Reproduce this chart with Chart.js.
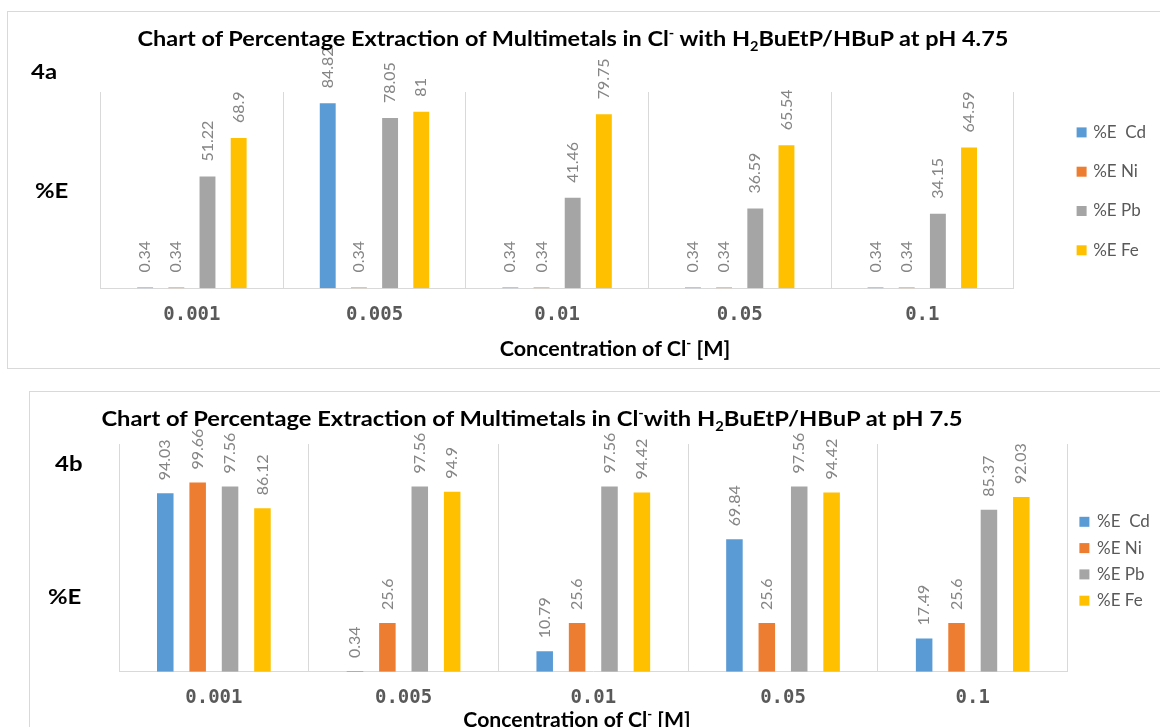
<!DOCTYPE html>
<html>
<head>
<meta charset="utf-8">
<script src="https://cdn.jsdelivr.net/npm/chart.js@4.4.1/dist/chart.umd.min.js"></script>
<style>
  html, body { margin: 0; padding: 0; background: #fff; width: 1160px; height: 727px; overflow: hidden; }
  .panel { position: absolute; border: 1px solid #d9d9d9; box-sizing: border-box; }
  canvas { position: absolute; }
  .txt {
    position: absolute; white-space: nowrap; line-height: 1;
    font-family: Lato, "DejaVu Sans", sans-serif; font-weight: bold; font-size: 21px; color: #000;
    transform-origin: 0 50%;
    transform: translateY(-50%) scaleX(1.14);
  }
  .txt.mid { transform-origin: 50% 50%; }
  .txt sup, .txt sub { font-size: 0.62em; line-height: 0; }
</style>
</head>
<body>

<!-- panel 4a -->
<div class="panel" style="left:7px; top:11px; width:1170px; height:358px;"></div>
<canvas id="chartA" width="1150" height="355" style="left:8px; top:12px;"></canvas>
<div class="txt mid" style="left:573px; top:37px; transform: translate(-50%, -50%) scaleX(1.118);">Chart of Percentage Extraction of Multimetals in Cl<sup>-</sup> with H<sub>2</sub>BuEtP/HBuP at pH 4.75</div>
<div class="txt" style="left:31px; top:70px;">4a</div>
<div class="txt" style="left:35px; top:189px;">%E</div>
<div class="txt mid" style="left:615px; top:347px; transform: translate(-50%, -50%) scaleX(1.025);">Concentration of Cl<sup>-</sup> [M]</div>

<!-- panel 4b -->
<div class="panel" style="left:29px; top:391px; width:1150px; height:400px;"></div>
<canvas id="chartB" width="1130" height="335" style="left:30px; top:392px;"></canvas>
<div class="txt mid" style="left:532px; top:417px; transform: translate(-50%, -50%) scaleX(1.13);">Chart of Percentage Extraction of Multimetals in Cl<sup>-</sup>with H<sub>2</sub>BuEtP/HBuP at pH 7.5</div>
<div class="txt" style="left:55px; top:462px;">4b</div>
<div class="txt" style="left:48px; top:595px;">%E</div>
<div class="txt mid" style="left:577px; top:718px; transform: translate(-50%, -50%) scaleX(1.01);">Concentration of Cl<sup>-</sup> [M]</div>

<script>
// shared categories / series

const categories = ["0.001", "0.005", "0.01", "0.05", "0.1"];
const seriesNames = ["%E  Cd", "%E Ni", "%E Pb", "%E Fe"];
const seriesColors = ["#5B9BD5", "#ED7D31", "#A5A5A5", "#FFC000"];

// 4a - pH 4.75

const cdA = [0.34, 84.82, 0.34, 0.34, 0.34];
const niA = [0.34, 0.34, 0.34, 0.34, 0.34];
const pbA = [51.22, 78.05, 41.46, 36.59, 34.15];
const feA = [68.9, 81, 79.75, 65.54, 64.59];

// 4b - pH 7.5

const cdB = [94.03, 0.34, 10.79, 69.84, 17.49];
const niB = [99.66, 25.6, 25.6, 25.6, 25.6];
const pbB = [97.56, 97.56, 97.56, 97.56, 85.37];
const feB = [86.12, 94.9, 94.42, 94.42, 92.03];

// Plugin that writes the value above each bar, rotated like Excel's labels

const barValueLabels = {
  id: "barValueLabels",
  afterDatasetsDraw(chart, args, opts) {
    const ctx = chart.ctx;
    ctx.save();
    ctx.font = "16px Lato";
    ctx.fillStyle = "#858585";
    ctx.textAlign = "left";
    ctx.textBaseline = "middle";
    chart.data.datasets.forEach((ds, i) => {
      chart.getDatasetMeta(i).data.forEach((bar, j) => {
        ctx.save();
        ctx.translate(bar.x, bar.y - opts.offset);
        ctx.rotate(-Math.PI / 2);
        ctx.fillText(String(ds.data[j]), 0, 0);
        ctx.restore();
      });
    });
    ctx.restore();
  },
};

// Legend on the right, centred on the plot area (the built-in one clips its text)

const sideLegend = {
  id: "sideLegend",
  afterDraw(chart, args, opts) {
    const { ctx, chartArea } = chart;
    const mid = (chartArea.top + chartArea.bottom) / 2 + opts.shift;
    const x = chartArea.right + opts.gap;
    ctx.save();
    ctx.font = "17px Lato";
    ctx.textAlign = "left";
    ctx.textBaseline = "middle";
    chart.data.datasets.forEach((ds, i) => {
      const y = mid + (i - 1.5) * opts.spacing;
      ctx.fillStyle = ds.backgroundColor;
      ctx.fillRect(x, y - 5, 10, 10);
      ctx.fillStyle = "#595959";
      ctx.fillText(ds.label, x + opts.textGap, y);
    });
    ctx.restore();
  },
};

// Function, that holds the drawing chart logic

function drawChart(canvasId, cd, ni, pb, fe, cfg) {
  const ctx = document.getElementById(canvasId).getContext("2d");
  return new Chart(ctx, {
    type: "bar",
    data: {
      labels: categories,
      datasets: [cd, ni, pb, fe].map((data, i) => ({
        label: seriesNames[i],
        data,
        backgroundColor: seriesColors[i],
        categoryPercentage: 0.683,
        barPercentage: 0.51,
      })),
    },
    options: {
      responsive: false,
      animation: false,
      devicePixelRatio: 1,
      layout: { padding: cfg.padding },
      scales: {
        x: {
          grid: { color: "#d9d9d9", drawTicks: false },
          border: { color: "#d9d9d9" },
          ticks: {
            color: "#595959",
            padding: cfg.tickPadding,
            font: { family: "'DejaVu Sans Mono', monospace", size: 19, weight: "bold" },
          },
        },
        y: {
          display: false,
          min: 0,
          max: cfg.yMax,
        },
      },
      plugins: {
        legend: { display: false },
        tooltip: { enabled: false },
        barValueLabels: { offset: cfg.labelOffset },
        sideLegend: cfg.legend,
      },
    },
    plugins: [barValueLabels, sideLegend],
  });
}

drawChart("chartA", cdA, niA, pbA, feA, {
  padding: { left: 92.6, top: 80, right: 144.4, bottom: 24.7 },
  tickPadding: 15.6,
  yMax: 90,
  labelOffset: 15,
  legend: { gap: 63, textGap: 16.6, spacing: 39.3, shift: 1.2 },
});

drawChart("chartB", cdB, niB, pbB, feB, {
  padding: { left: 89, top: 52, right: 92.4, bottom: 2.1 },
  tickPadding: 15.2,
  yMax: 120,
  labelOffset: 13,
  legend: { gap: 11.8, textGap: 17.6, spacing: 26.3, shift: 3.4 },
});
</script>
</body>
</html>
